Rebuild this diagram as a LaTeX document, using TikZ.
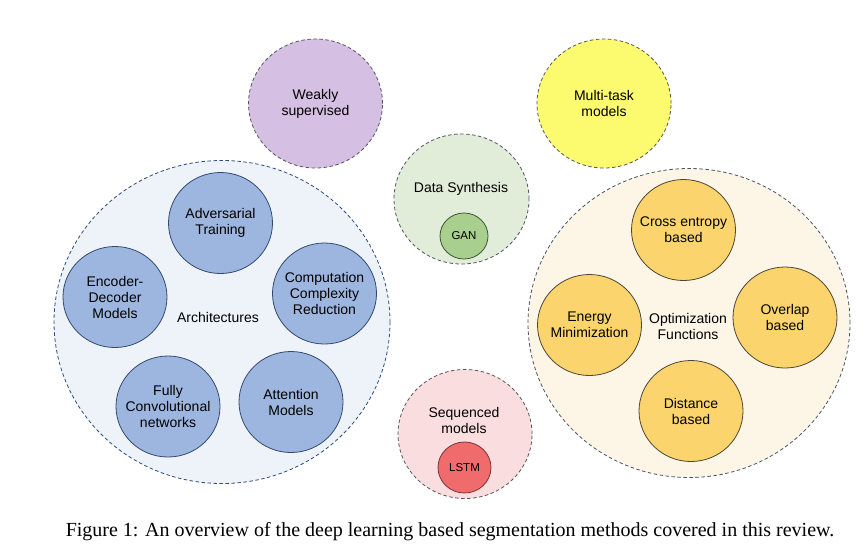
\documentclass[tikz,border=0pt]{standalone}
\usepackage{fontspec}
\setmainfont{Liberation Sans}
\newfontfamily\capfont{Liberation Serif}
\usetikzlibrary{shapes.geometric}
\definecolor{archFill}{HTML}{EEF3FA}
\definecolor{archLine}{HTML}{2F4A80}
\definecolor{blueFill}{HTML}{9DB6E0}
\definecolor{blueLine}{HTML}{34496F}
\definecolor{optFill}{HTML}{FDF6E7}
\definecolor{optLine}{HTML}{4A5468}
\definecolor{yelFill}{HTML}{FBD46E}
\definecolor{yelLine}{HTML}{4D4535}
\definecolor{purFill}{HTML}{D5BFE2}
\definecolor{multiFill}{HTML}{FCFA6E}
\definecolor{grayLine}{HTML}{555560}
\definecolor{dsFill}{HTML}{E1EDD9}
\definecolor{ganFill}{HTML}{A9CF8F}
\definecolor{ganLine}{HTML}{3D5535}
\definecolor{seqFill}{HTML}{FADDDE}
\definecolor{lstmFill}{HTML}{EF6B6C}
\definecolor{lstmLine}{HTML}{7A3535}
\tikzset{
  bubble/.style={ellipse, draw, line width=0.8pt, inner sep=0pt},
  dashbubble/.style={bubble, dash pattern=on 3.5pt off 2.5pt},
  txt/.style={font=\fontsize{14}{16}\selectfont, align=center, text=black},
  smalltxt/.style={font=\fontsize{11.5}{13}\selectfont, align=center, text=black},
  inner/.style={bubble, minimum width=104pt, minimum height=101pt},
}
\begin{document}
\begin{tikzpicture}[x=1pt,y=-1pt]
\useasboundingbox[fill=white] (0,0) rectangle (866,550);
% big groups
\node[dashbubble, fill=archFill, draw=archLine, minimum width=336pt, minimum height=323pt] (arch) at (222,322) {};
\node[txt] (archlbl) at (218,317) {Architectures};
\node[dashbubble, fill=optFill, draw=optLine, minimum width=322pt, minimum height=309pt] (opt) at (689,323) {};
\node[txt] (optlbl) at (688,326) {Optimization\\Functions};
% architecture members
\node[inner, fill=blueFill, draw=blueLine, label={[txt]center:Adversarial\\Training}] (adv) at (220.5,223) {};
\node[inner, fill=blueFill, draw=blueLine, label={[txt]center:Encoder-\\Decoder\\Models}] (enc) at (115,297) {};
\node[inner, fill=blueFill, draw=blueLine, label={[txt]center:Computation\\Complexity\\Reduction}] (ccr) at (324.5,293.5) {};
\node[inner, fill=blueFill, draw=blueLine, label={[txt]center:Fully\\Convolutional\\networks}] (fcn) at (168,406.5) {};
\node[inner, fill=blueFill, draw=blueLine, label={[txt]center:Attention\\Models}] (att) at (291,402) {};
% optimization members
\node[inner, fill=yelFill, draw=yelLine, label={[txt]center:Cross entropy\\based}] (ce) at (683.5,230) {};
\node[inner, fill=yelFill, draw=yelLine, label={[txt]center:Energy\\Minimization}] (en) at (589.5,325) {};
\node[inner, fill=yelFill, draw=yelLine, label={[txt]center:Overlap\\based}] (ov) at (785,317.5) {};
\node[inner, fill=yelFill, draw=yelLine, label={[txt]center:Distance\\based}] (dist) at (691,411) {};
% other groups
\node[dashbubble, fill=purFill, draw=grayLine, minimum width=134pt, minimum height=129pt, label={[txt]center:Weakly\\supervised}] (weak) at (315.5,103.5) {};
\node[dashbubble, fill=multiFill, draw=grayLine, minimum width=134pt, minimum height=129pt, label={[txt]center:Multi-task\\models}] (multi) at (604,103.5) {};
\node[dashbubble, fill=dsFill, draw=grayLine, minimum width=135pt, minimum height=130pt] (ds) at (461.5,199) {};
\node[txt] (dslbl) at (461,189) {Data Synthesis};
\node[bubble, fill=ganFill, draw=ganLine, minimum width=48pt, minimum height=46pt, label={[smalltxt]center:GAN}] (gan) at (464,236) {};
\node[dashbubble, fill=seqFill, draw=grayLine, minimum width=134pt, minimum height=129pt] (seq) at (465,434) {};
\node[txt] (seqlbl) at (464,420.5) {Sequenced\\models};
\node[bubble, fill=lstmFill, draw=lstmLine, minimum width=53pt, minimum height=51pt, label={[smalltxt]center:LSTM}] (lstm) at (464.5,467.5) {};
% caption
\node[font=\capfont\fontsize{20}{24}\selectfont, text=black, inner sep=0pt, anchor=base] (cap) at (450,536.5) {Figure 1: An overview of the deep learning based segmentation methods covered in this review.};
\end{tikzpicture}
\end{document}
